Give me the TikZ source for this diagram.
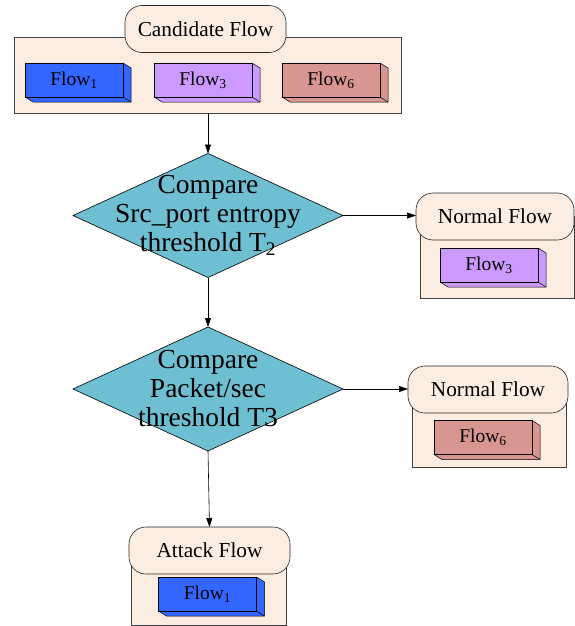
\documentclass[tikz,border=0pt]{standalone}
\usepackage{fontspec}
\setmainfont{Liberation Serif}
\usetikzlibrary{shapes.geometric,arrows.meta}

\definecolor{peach}{HTML}{FCEDE2}
\definecolor{flowblue}{HTML}{3366FF}
\definecolor{flowlilac}{HTML}{CC99FF}
\definecolor{flowrose}{HTML}{D9958F}
\definecolor{teal}{HTML}{6EBFD2}

\tikzset{
  panel/.style={draw=black!75, line width=0.6pt, fill=peach, inner sep=0pt, outer sep=0pt},
  tag/.style={draw=black!85, line width=0.6pt, fill=peach, rounded corners=17pt,
    minimum height=47pt, inner sep=0pt, outer sep=0pt,
    font=\fontsize{21.3}{23}\selectfont},
  decision/.style={diamond, draw=black, line width=0.6pt, fill=teal,
    minimum width=270pt, minimum height=124pt, inner sep=0pt, outer sep=0pt},
  decisiontext/.style={align=center, inner sep=0pt,
    font=\fontsize{27.5}{29}\selectfont},
  flowbox/.style={draw=black, line width=0.5pt, minimum width=98pt,
    minimum height=34pt, inner sep=0pt, outer sep=0pt,
    font=\fontsize{19.5}{21}\selectfont},
  flowedge/.style={draw=black, line width=0.5pt, line join=round},
  link/.style={draw=black, line width=0.6pt, -{Triangle[length=9pt,width=6pt]}}
}

% a raised flow block: name, centre, colour, subscript
\newcommand\flowblock[4]{%
  \coordinate (#1-c) at (#2);
  \filldraw[flowedge, fill=#3]
    ([shift={(49,-17)}]#1-c) -- ([shift={(57,-12)}]#1-c)
    -- ([shift={(57,22)}]#1-c) -- ([shift={(-41,22)}]#1-c)
    -- ([shift={(-49,17)}]#1-c) -- cycle;
  \draw[flowedge] ([shift={(49,17)}]#1-c) -- ([shift={(57,22)}]#1-c);
  \node[flowbox, fill=#3] (#1) at (#1-c) {Flow\textsubscript{#4}};
}

\begin{document}
\begin{tikzpicture}[x=1pt, y=-1pt]
\useasboundingbox (0,0) rectangle (575,626);

% candidate group
\node[panel, minimum width=387pt, minimum height=76pt] (candbox) at (207.5,75) {};
\node[tag, minimum width=161pt] (candtag) at (205.5,29) {Candidate Flow};
\flowblock{cf1}{74,80}{flowblue}{1}
\flowblock{cf3}{203,80}{flowlilac}{3}
\flowblock{cf6}{331,80}{flowrose}{6}

% decisions
\node[decision] (d1) at (208,215.5) {};
\node[decisiontext] (d1t) at (d1.center) {Compare\\Src\_port entropy\\threshold T\textsubscript{2}};
\node[decision] (d2) at (208,389) {};
\node[decisiontext] (d2t) at (d2.center) {Compare\\Packet/sec\\threshold T3};

% first normal group
\node[panel, minimum width=154pt, minimum height=82pt] (n1box) at (497,257) {};
\node[tag, minimum width=158pt] (n1tag) at (495,216.5) {Normal Flow};
\flowblock{nf3}{489,265}{flowlilac}{3}

% second normal group
\node[panel, minimum width=154pt, minimum height=78pt] (n2box) at (489,428) {};
\node[tag, minimum width=160pt] (n2tag) at (488,389.5) {Normal Flow};
\flowblock{nf6}{483,437.5}{flowrose}{6}

% attack group
\node[panel, minimum width=155pt, minimum height=75pt] (abox) at (208.5,587.5) {};
\node[tag, minimum width=161pt] (atag) at (209.5,550.5) {Attack Flow};
\flowblock{af1}{207.5,594}{flowblue}{1}

% connectors
\draw[link] (candbox.south -| d1.north) -- (d1.north);
\draw[link] (d1.east) -- (d1.east -| n1tag.west);
\draw[link] (d1.south) -- (d2.north);
\draw[link] (d2.east) -- (d2.east -| n2tag.west);
\draw[link] (d2.south) -- (atag.north);
\end{tikzpicture}
\end{document}
